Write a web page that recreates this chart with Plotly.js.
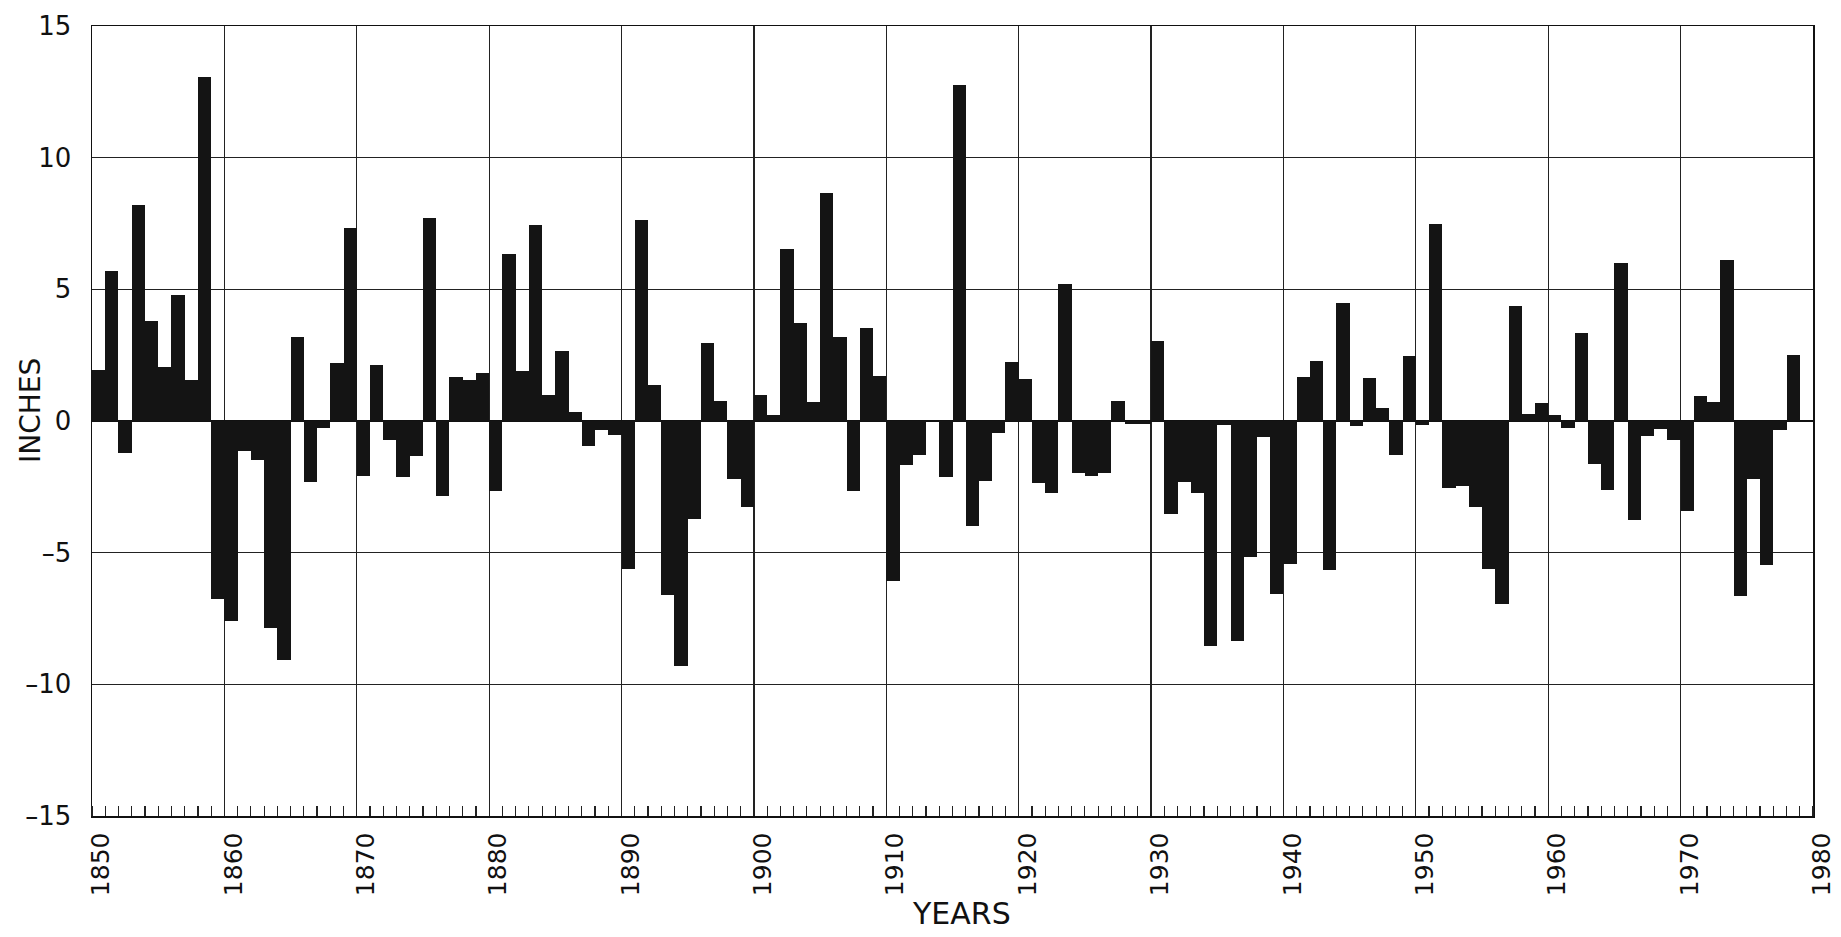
<!DOCTYPE html>
<html>
<head>
<meta charset="utf-8">
<script src="https://cdn.plot.ly/plotly-3.0.1.min.js"></script>
<style>
  html, body { margin: 0; padding: 0; background: #fff; }
  #chart { width: 1841px; height: 937px; }
</style>
</head>
<body>
<div id="chart"></div>
<script>
// Annual departure (inches), one value per year starting 1850
const firstYear = 1850;
const values = [
  1.92, 5.70, -1.22, 8.22, 3.81, 2.05, 4.80, 1.55, 13.08, -6.75,   // 1850s
  -7.58, -1.15, -1.49, -7.86, -9.07, 3.20, -2.30, -0.27, 2.19, 7.34, // 1860s
  -2.09, 2.12, -0.72, -2.12, -1.31, 7.70, -2.84, 1.68, 1.54, 1.82,   // 1870s
  -2.64, 6.35, 1.89, 7.46, 0.97, 2.66, 0.34, -0.95, -0.34, -0.54,    // 1880s
  -5.63, 7.65, 1.35, -6.59, -9.30, -3.74, 2.97, 0.76, -2.19, -3.27,  // 1890s
  0.99, 0.22, 6.55, 3.73, 0.72, 8.65, 3.18, -2.66, 3.55, 1.72,       // 1900s
  -6.07, -1.66, -1.28, 0.00, -2.14, 12.76, -3.98, -2.27, -0.45, 2.23, // 1910s
  1.58, -2.36, -2.74, 5.20, -1.97, -2.10, -1.97, 0.77, -0.10, -0.10, // 1920s
  3.03, -3.53, -2.31, -2.72, -8.55, -0.15, -8.34, -5.15, -0.62, -6.56, // 1930s
  -5.42, 1.68, 2.26, -5.65, 4.49, -0.18, 1.62, 0.50, -1.28, 2.46,    // 1940s
  -0.15, 7.50, -2.54, -2.47, -3.28, -5.62, -6.94, 4.35, 0.26, 0.70,  // 1950s
  0.23, -0.25, 3.34, -1.65, -2.62, 6.00, -3.75, -0.58, -0.31, -0.74, // 1960s
  -3.40, 0.95, 0.72, 6.12, -6.66, -2.19, -5.45, -0.35, 2.50          // 1970s
];
const years = values.map((_, i) => firstYear + i);
const xTickVals = [1850, 1860, 1870, 1880, 1890, 1900, 1910, 1920, 1930, 1940, 1950, 1960, 1970, 1980];
const xTickText = ["1850", "1860", "1870", "1880", "1890", "1900", "1910", "1920", "1930", "1940", "1950", "1960", "1970", "1980"];
const yTickVals = [15, 10, 5, 0, -5, -10, -15];
const yTickText = ["15", "10", "5", "0", "\u20135", "\u201310", "\u201315"];

const fontFam = "DejaVu Sans, Liberation Sans, sans-serif";

const trace = {
  type: "bar",
  x: years,
  y: values,
  width: 1,
  offset: 0,
  marker: { color: "#141414", line: { width: 0 } },
  hoverinfo: "x+y"
};

const layout = {
  width: 1841,
  height: 937,
  margin: { l: 92, r: 28, t: 26, b: 121 },
  paper_bgcolor: "#fff",
  plot_bgcolor: "#fff",
  showlegend: false,
  bargap: 0,
  font: { family: fontFam, color: "#111" },
  xaxis: {
    range: [1850, 1980],
    tickmode: "array",
    tickvals: xTickVals,
    ticktext: xTickText,
    tickangle: -90,
    tickfont: { size: 25, family: fontFam, color: "#111" },
    ticks: "",
    ticklabelshift: 9,
    ticklabelstandoff: 5,
    showgrid: true,
    gridcolor: "#222",
    gridwidth: 1.2,
    zeroline: false,
    showline: true,
    linecolor: "#111",
    linewidth: 1.5,
    mirror: true,
    minor: { ticks: "inside", dtick: 1, tick0: 1850, ticklen: 10, tickcolor: "#222", tickwidth: 1.2, showgrid: false },
    fixedrange: true
  },
  yaxis: {
    range: [-15, 15],
    tickmode: "array",
    tickvals: yTickVals,
    ticktext: yTickText,
    tickfont: { size: 26, family: fontFam, color: "#111" },
    ticks: "",
    ticklabelstandoff: 14,
    showgrid: true,
    gridcolor: "#222",
    gridwidth: 1.2,
    zeroline: true,
    zerolinecolor: "#111",
    zerolinewidth: 1.2,
    showline: true,
    linecolor: "#111",
    linewidth: 1.5,
    mirror: true,
    fixedrange: true
  },
  annotations: [
    {
      text: "INCHES",
      xref: "paper", yref: "paper",
      x: -0.0354, y: 0.5127,
      xanchor: "center", yanchor: "middle",
      textangle: -90,
      showarrow: false,
      font: { size: 28, family: fontFam, color: "#111" }
    },
    {
      text: "YEARS",
      xref: "paper", yref: "paper",
      x: 0.5055, y: -0.124,
      xanchor: "center", yanchor: "middle",
      showarrow: false,
      font: { size: 30, family: fontFam, color: "#111" }
    }
  ]
};

Plotly.newPlot("chart", [trace], layout, { displayModeBar: false, staticPlot: true });
</script>
</body>
</html>
